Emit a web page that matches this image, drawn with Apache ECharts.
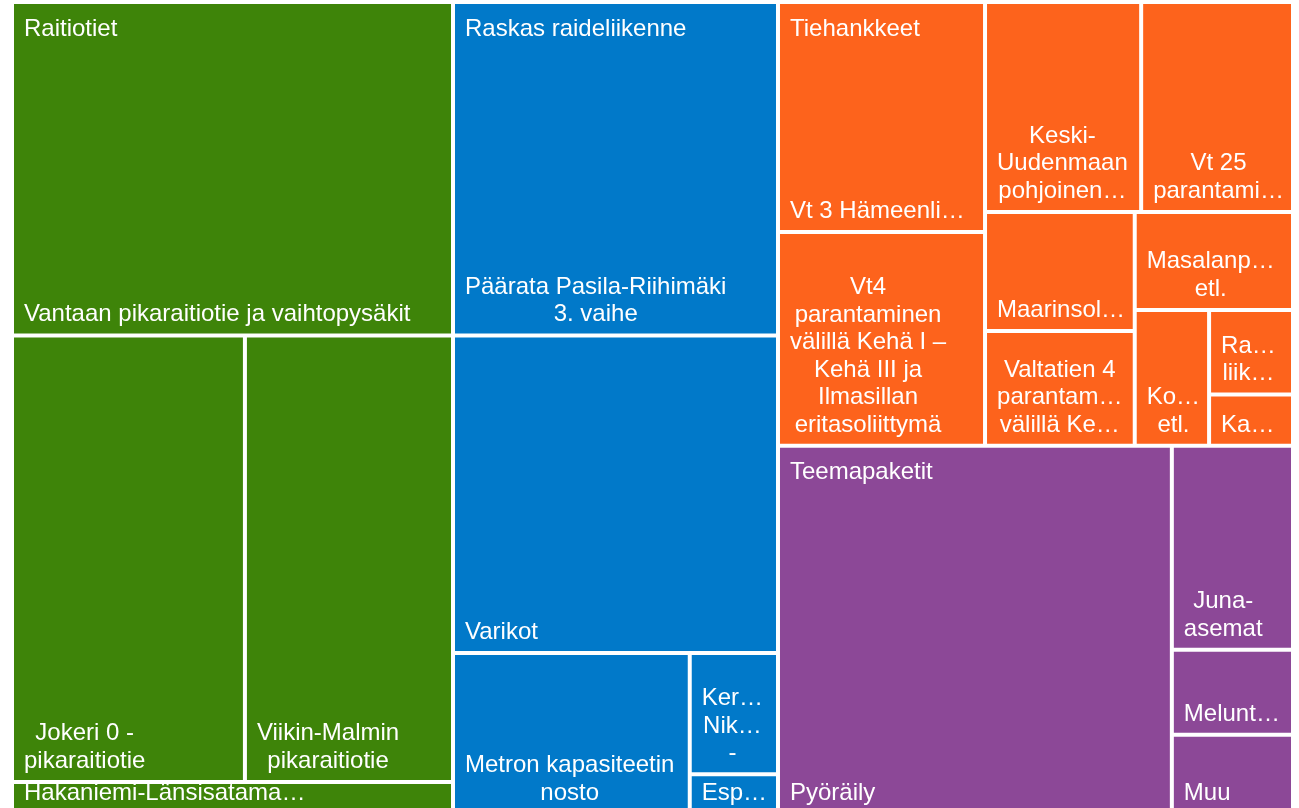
<!DOCTYPE html>
<html>
<head>
<meta charset="utf-8">
<title>Hankkeet</title>
<script src="https://cdn.jsdelivr.net/npm/echarts@6/dist/echarts.min.js"></script>
<style>
  html, body { margin: 0; padding: 0; background: #fff; }
  #chart { width: 1299px; height: 808px; }
</style>
</head>
<body>
<div id="chart"></div>
<script>
// ryhmät ja värit
const groups = ['Raitiotiet', 'Raskas raideliikenne', 'Tiehankkeet', 'Teemapaketit'];
const groupColors = ['#3E8409', '#0179C9', '#FD631C', '#8C4897'];

// hankkeiden nimet niin kuin ne kuvassa näkyvät (rivinvaihdot mukana)
const raitiotiet = [
    'Vantaan pikaraitiotie ja vaihtopysäkit',
    'Jokeri 0 -\npikaraitiotie',
    'Viikin-Malmin\npikaraitiotie',
    'Hakaniemi-Länsisatama…'
];
const raitiotietArvot = [147.1, 104.0, 92.9, 14.1];

const raskasRaide = [
    'Päärata Pasila-Riihimäki\n3. vaihe',
    'Varikot',
    'Metron kapasiteetin\nnosto',
    'Ker…\nNik…\n-',
    'Esp…'
];
const raskasRaideArvot = [108.4, 103.2, 38.1, 10.7, 3.5];

const tiehankkeet = [
    'Vt 3 Hämeenli…',
    'Vt4\nparantaminen\nvälillä Kehä I –\nKehä III ja\nIlmasillan\neritasoliittymä',
    'Keski-\nUudenmaan\npohjoinen…',
    'Vt 25\nparantami…',
    'Maarinsol…',
    'Valtatien 4\nparantam…\nvälillä Ke…',
    'Masalanp…\netl.',
    'Ko…\netl.',
    'Ra…\nliik…',
    'Ka…'
];
const tiehankkeetArvot = [47.6, 44.3, 32.8, 31.9, 17.8, 17.2, 15.5, 10.1, 7.1, 4.3];

const teemapaketit = ['Pyöräily', 'Juna-\nasemat', 'Melunt…', 'Muu'];
const teemapaketitArvot = [145.0, 24.7, 10.3, 9.6];

const names = [raitiotiet, raskasRaide, tiehankkeet, teemapaketit];
const values = [raitiotietArvot, raskasRaideArvot, tiehankkeetArvot, teemapaketitArvot];

const FONT = '"Liberation Sans", Arial, sans-serif';
const FONT_SIZE = 24;
const GAP = 4;
const PAD = 10;
const chartBox = { x: 12, y: 2, width: 1281, height: 812 };

function sum(arr) {
    return arr.reduce((a, b) => a + b, 0);
}

// ryhmien paikat summista: kaksi ensimmäistä omiin sarakkeisiinsa, kaksi viimeistä päällekkäin
function groupRects(totals) {
    const all = sum(totals);
    const rects = [];
    let x = chartBox.x;
    for (let i = 0; i < 2; i++) {
        const w = totals[i] / all * chartBox.width;
        rects.push({ x: x, y: chartBox.y, width: w, height: chartBox.height });
        x += w;
    }
    const rest = totals[2] + totals[3];
    const w = chartBox.x + chartBox.width - x;
    let y = chartBox.y;
    for (let i = 2; i < 4; i++) {
        const h = totals[i] / rest * chartBox.height;
        rects.push({ x: x, y: y, width: w, height: h });
        y += h;
    }
    return rects.map(r => ({
        x: r.x + GAP / 2,
        y: r.y + GAP / 2,
        width: r.width - GAP,
        height: r.height - GAP
    }));
}

// monirivisissä nimissä rivit keskitetään leveimmän rivin mukaan
const measureCtx = document.createElement('canvas').getContext('2d');
measureCtx.font = FONT_SIZE + 'px ' + FONT;
function lineCentering(text) {
    const lines = text.split('\n');
    if (lines.length < 2) return null;
    const w = Math.max.apply(null, lines.map(l => measureCtx.measureText(l).width));
    return { align: 'center', offset: [PAD + w / 2, 0] };
}

const rects = groupRects(values.map(sum));

const series = groups.map((g, i) => {
    const r = rects[i];
    return {
        type: 'treemap',
        name: g,
        left: r.x,
        top: r.y,
        width: r.width,
        height: r.height,
        squareRatio: i === 0 ? 1.2 : 1,
        roam: false,
        nodeClick: false,
        breadcrumb: { show: false },
        label: {
            show: true,
            position: 'insideBottomLeft',
            distance: 0,
            padding: [-10, PAD, 5, PAD],
            color: '#fff',
            fontSize: FONT_SIZE,
            lineHeight: 27.5,
            fontFamily: FONT,
            overflow: 'none'
        },
        levels: [
            { itemStyle: { borderWidth: 0, gapWidth: GAP, borderColor: '#fff' } },
            { itemStyle: { color: groupColors[i], borderWidth: 0 } }
        ],
        data: names[i].map((n, j) => {
            const item = { name: n, value: values[i][j] };
            const lbl = lineCentering(n);
            if (lbl) item.label = lbl;
            return item;
        })
    };
});

const chart = echarts.init(document.getElementById('chart'));
chart.setOption({
    animation: false,
    tooltip: { show: false },
    title: groups.map((g, i) => ({
        text: g,
        left: rects[i].x + PAD,
        top: rects[i].y + 11,
        padding: 0,
        textStyle: {
            color: '#fff',
            fontSize: FONT_SIZE,
            fontWeight: 'normal',
            fontFamily: FONT,
            lineHeight: 28
        }
    })),
    series: series
});
</script>
</body>
</html>
